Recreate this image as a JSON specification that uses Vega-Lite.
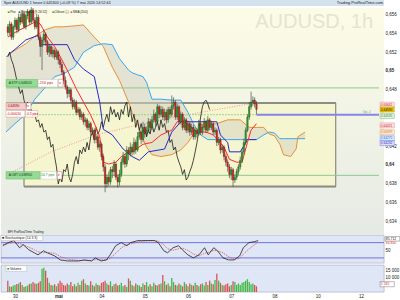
{
"$schema": "https://vega.github.io/schema/vega-lite/v6.json",
"padding": 0,
"background": "white",
"spacing": 0,
"config": {"view": {"stroke": null}, "font": "Liberation Sans", "text": {"font": "Liberation Sans"}, "axis": {"labelFont": "Liberation Sans", "labelFontSize": 4.5, "labelColor": "#222222", "grid": false, "ticks": false, "domain": false, "title": null, "labelPadding": 1}},
"datasets": {
"candles": [
{"t":0,"o":0.6547,"h":0.6550,"l":0.6537,"c":0.6541,"v":8000},
{"t":1,"o":0.6541,"h":0.6553,"l":0.6538,"c":0.6550,"v":4000},
{"t":2,"o":0.6550,"h":0.6552,"l":0.6533,"c":0.6536,"v":3600},
{"t":3,"o":0.6536,"h":0.6549,"l":0.6533,"c":0.6547,"v":4500},
{"t":4,"o":0.6547,"h":0.6557,"l":0.6544,"c":0.6554,"v":5000},
{"t":5,"o":0.6554,"h":0.6556,"l":0.6540,"c":0.6544,"v":5700},
{"t":6,"o":0.6544,"h":0.6561,"l":0.6541,"c":0.6557,"v":6000},
{"t":7,"o":0.6557,"h":0.6561,"l":0.6549,"c":0.6552,"v":7000},
{"t":8,"o":0.6552,"h":0.6565,"l":0.6550,"c":0.6561,"v":5000},
{"t":9,"o":0.6561,"h":0.6563,"l":0.6545,"c":0.6547,"v":3600},
{"t":10,"o":0.6547,"h":0.6561,"l":0.6544,"c":0.6559,"v":4000},
{"t":11,"o":0.6559,"h":0.6566,"l":0.6555,"c":0.6563,"v":4500},
{"t":12,"o":0.6563,"h":0.6565,"l":0.6549,"c":0.6552,"v":5700},
{"t":13,"o":0.6552,"h":0.6568,"l":0.6550,"c":0.6565,"v":6000},
{"t":14,"o":0.6565,"h":0.6567,"l":0.6552,"c":0.6554,"v":7100},
{"t":15,"o":0.6554,"h":0.6557,"l":0.6544,"c":0.6547,"v":6000},
{"t":16,"o":0.6547,"h":0.6561,"l":0.6545,"c":0.6557,"v":5700},
{"t":17,"o":0.6557,"h":0.6560,"l":0.6533,"c":0.6536,"v":6500},
{"t":18,"o":0.6536,"h":0.6539,"l":0.6515,"c":0.6526,"v":7500},
{"t":19,"o":0.6526,"h":0.6536,"l":0.6501,"c":0.6533,"v":16400},
{"t":20,"o":0.6533,"h":0.6544,"l":0.6529,"c":0.6539,"v":17000},
{"t":21,"o":0.6539,"h":0.6541,"l":0.6527,"c":0.6531,"v":15000},
{"t":22,"o":0.6531,"h":0.6533,"l":0.6517,"c":0.6520,"v":10000},
{"t":23,"o":0.6520,"h":0.6529,"l":0.6515,"c":0.6526,"v":6500},
{"t":24,"o":0.6526,"h":0.6528,"l":0.6515,"c":0.6518,"v":5000},
{"t":25,"o":0.6518,"h":0.6526,"l":0.6514,"c":0.6522,"v":4500},
{"t":26,"o":0.6522,"h":0.6524,"l":0.6512,"c":0.6515,"v":5500},
{"t":27,"o":0.6515,"h":0.6522,"l":0.6512,"c":0.6520,"v":4000},
{"t":28,"o":0.6520,"h":0.6522,"l":0.6507,"c":0.6512,"v":6000},
{"t":29,"o":0.6512,"h":0.6515,"l":0.6503,"c":0.6507,"v":8000},
{"t":30,"o":0.6507,"h":0.6510,"l":0.6496,"c":0.6499,"v":6500},
{"t":31,"o":0.6499,"h":0.6501,"l":0.6486,"c":0.6490,"v":5000},
{"t":32,"o":0.6490,"h":0.6494,"l":0.6480,"c":0.6483,"v":4500},
{"t":33,"o":0.6483,"h":0.6485,"l":0.6471,"c":0.6476,"v":6000},
{"t":34,"o":0.6476,"h":0.6483,"l":0.6472,"c":0.6480,"v":5000},
{"t":35,"o":0.6480,"h":0.6482,"l":0.6466,"c":0.6469,"v":7000},
{"t":36,"o":0.6469,"h":0.6472,"l":0.6459,"c":0.6462,"v":4000},
{"t":37,"o":0.6462,"h":0.6470,"l":0.6459,"c":0.6467,"v":5500},
{"t":38,"o":0.6467,"h":0.6469,"l":0.6453,"c":0.6456,"v":4000},
{"t":39,"o":0.6456,"h":0.6462,"l":0.6453,"c":0.6459,"v":6500},
{"t":40,"o":0.6459,"h":0.6461,"l":0.6448,"c":0.6451,"v":5000},
{"t":41,"o":0.6451,"h":0.6457,"l":0.6448,"c":0.6454,"v":8000},
{"t":42,"o":0.6454,"h":0.6456,"l":0.6443,"c":0.6446,"v":9000},
{"t":43,"o":0.6446,"h":0.6451,"l":0.6441,"c":0.6448,"v":6000},
{"t":44,"o":0.6448,"h":0.6450,"l":0.6437,"c":0.6440,"v":5000},
{"t":45,"o":0.6440,"h":0.6447,"l":0.6437,"c":0.6444,"v":4500},
{"t":46,"o":0.6444,"h":0.6446,"l":0.6431,"c":0.6435,"v":7500},
{"t":47,"o":0.6435,"h":0.6440,"l":0.6432,"c":0.6437,"v":5000},
{"t":48,"o":0.6437,"h":0.6439,"l":0.6423,"c":0.6427,"v":4000},
{"t":49,"o":0.6427,"h":0.6433,"l":0.6423,"c":0.6430,"v":6000},
{"t":50,"o":0.6430,"h":0.6432,"l":0.6416,"c":0.6419,"v":5000},
{"t":51,"o":0.6419,"h":0.6426,"l":0.6414,"c":0.6422,"v":4500},
{"t":52,"o":0.6422,"h":0.6424,"l":0.6405,"c":0.6409,"v":6500},
{"t":53,"o":0.6409,"h":0.6412,"l":0.6393,"c":0.6398,"v":7000},
{"t":54,"o":0.6398,"h":0.6401,"l":0.6371,"c":0.6380,"v":8000},
{"t":55,"o":0.6380,"h":0.6390,"l":0.6376,"c":0.6387,"v":6000},
{"t":56,"o":0.6387,"h":0.6393,"l":0.6378,"c":0.6382,"v":5000},
{"t":57,"o":0.6382,"h":0.6398,"l":0.6379,"c":0.6395,"v":7500},
{"t":58,"o":0.6395,"h":0.6399,"l":0.6386,"c":0.6393,"v":4000},
{"t":59,"o":0.6393,"h":0.6405,"l":0.6388,"c":0.6401,"v":5500},
{"t":60,"o":0.6401,"h":0.6403,"l":0.6384,"c":0.6387,"v":6000},
{"t":61,"o":0.6387,"h":0.6390,"l":0.6376,"c":0.6382,"v":4500},
{"t":62,"o":0.6382,"h":0.6395,"l":0.6378,"c":0.6390,"v":5000},
{"t":63,"o":0.6390,"h":0.6407,"l":0.6387,"c":0.6403,"v":6500},
{"t":64,"o":0.6403,"h":0.6414,"l":0.6400,"c":0.6409,"v":4000},
{"t":65,"o":0.6409,"h":0.6412,"l":0.6397,"c":0.6401,"v":5000},
{"t":66,"o":0.6401,"h":0.6420,"l":0.6398,"c":0.6416,"v":3500},
{"t":67,"o":0.6416,"h":0.6419,"l":0.6405,"c":0.6412,"v":9500},
{"t":68,"o":0.6412,"h":0.6424,"l":0.6409,"c":0.6419,"v":8000},
{"t":69,"o":0.6419,"h":0.6422,"l":0.6410,"c":0.6414,"v":5000},
{"t":70,"o":0.6414,"h":0.6429,"l":0.6411,"c":0.6424,"v":4000},
{"t":71,"o":0.6424,"h":0.6427,"l":0.6412,"c":0.6416,"v":6000},
{"t":72,"o":0.6416,"h":0.6435,"l":0.6414,"c":0.6430,"v":5000},
{"t":73,"o":0.6430,"h":0.6439,"l":0.6427,"c":0.6435,"v":4500},
{"t":74,"o":0.6435,"h":0.6437,"l":0.6422,"c":0.6427,"v":3500},
{"t":75,"o":0.6427,"h":0.6446,"l":0.6424,"c":0.6440,"v":6000},
{"t":76,"o":0.6440,"h":0.6444,"l":0.6429,"c":0.6433,"v":5000},
{"t":77,"o":0.6433,"h":0.6441,"l":0.6430,"c":0.6437,"v":7000},
{"t":78,"o":0.6437,"h":0.6450,"l":0.6434,"c":0.6446,"v":4000},
{"t":79,"o":0.6446,"h":0.6449,"l":0.6436,"c":0.6440,"v":5500},
{"t":80,"o":0.6440,"h":0.6452,"l":0.6437,"c":0.6448,"v":4000},
{"t":81,"o":0.6448,"h":0.6459,"l":0.6445,"c":0.6454,"v":6500},
{"t":82,"o":0.6454,"h":0.6456,"l":0.6441,"c":0.6446,"v":5000},
{"t":83,"o":0.6446,"h":0.6465,"l":0.6443,"c":0.6462,"v":4500},
{"t":84,"o":0.6462,"h":0.6464,"l":0.6450,"c":0.6454,"v":5500},
{"t":85,"o":0.6454,"h":0.6463,"l":0.6451,"c":0.6459,"v":6000},
{"t":86,"o":0.6459,"h":0.6462,"l":0.6448,"c":0.6451,"v":12000},
{"t":87,"o":0.6451,"h":0.6460,"l":0.6447,"c":0.6456,"v":7500},
{"t":88,"o":0.6456,"h":0.6459,"l":0.6444,"c":0.6448,"v":5000},
{"t":89,"o":0.6448,"h":0.6462,"l":0.6445,"c":0.6459,"v":6000},
{"t":90,"o":0.6459,"h":0.6462,"l":0.6450,"c":0.6454,"v":4000},
{"t":91,"o":0.6454,"h":0.6474,"l":0.6451,"c":0.6463,"v":9800},
{"t":92,"o":0.6463,"h":0.6472,"l":0.6459,"c":0.6467,"v":7000},
{"t":93,"o":0.6467,"h":0.6469,"l":0.6448,"c":0.6451,"v":5000},
{"t":94,"o":0.6451,"h":0.6465,"l":0.6448,"c":0.6462,"v":4500},
{"t":95,"o":0.6462,"h":0.6464,"l":0.6443,"c":0.6446,"v":6000},
{"t":96,"o":0.6446,"h":0.6457,"l":0.6443,"c":0.6454,"v":5000},
{"t":97,"o":0.6454,"h":0.6456,"l":0.6437,"c":0.6440,"v":4000},
{"t":98,"o":0.6440,"h":0.6451,"l":0.6437,"c":0.6448,"v":7000},
{"t":99,"o":0.6448,"h":0.6450,"l":0.6434,"c":0.6437,"v":5500},
{"t":100,"o":0.6437,"h":0.6447,"l":0.6434,"c":0.6444,"v":4000},
{"t":101,"o":0.6444,"h":0.6446,"l":0.6431,"c":0.6435,"v":6000},
{"t":102,"o":0.6435,"h":0.6444,"l":0.6432,"c":0.6440,"v":5000},
{"t":103,"o":0.6440,"h":0.6443,"l":0.6427,"c":0.6430,"v":4500},
{"t":104,"o":0.6430,"h":0.6440,"l":0.6427,"c":0.6437,"v":6500},
{"t":105,"o":0.6437,"h":0.6439,"l":0.6429,"c":0.6433,"v":5000},
{"t":106,"o":0.6433,"h":0.6448,"l":0.6431,"c":0.6444,"v":4000},
{"t":107,"o":0.6444,"h":0.6446,"l":0.6432,"c":0.6435,"v":5500},
{"t":108,"o":0.6435,"h":0.6444,"l":0.6432,"c":0.6440,"v":6000},
{"t":109,"o":0.6440,"h":0.6450,"l":0.6437,"c":0.6446,"v":4500},
{"t":110,"o":0.6446,"h":0.6448,"l":0.6434,"c":0.6437,"v":7000},
{"t":111,"o":0.6437,"h":0.6452,"l":0.6435,"c":0.6448,"v":5000},
{"t":112,"o":0.6448,"h":0.6450,"l":0.6437,"c":0.6440,"v":8000},
{"t":113,"o":0.6440,"h":0.6447,"l":0.6437,"c":0.6444,"v":6000},
{"t":114,"o":0.6444,"h":0.6446,"l":0.6432,"c":0.6435,"v":5500},
{"t":115,"o":0.6435,"h":0.6440,"l":0.6432,"c":0.6437,"v":8500},
{"t":116,"o":0.6437,"h":0.6439,"l":0.6420,"c":0.6424,"v":12800},
{"t":117,"o":0.6424,"h":0.6430,"l":0.6421,"c":0.6427,"v":8000},
{"t":118,"o":0.6427,"h":0.6429,"l":0.6412,"c":0.6416,"v":6500},
{"t":119,"o":0.6416,"h":0.6422,"l":0.6413,"c":0.6419,"v":5000},
{"t":120,"o":0.6419,"h":0.6421,"l":0.6405,"c":0.6409,"v":4500},
{"t":121,"o":0.6409,"h":0.6412,"l":0.6399,"c":0.6403,"v":5500},
{"t":122,"o":0.6403,"h":0.6406,"l":0.6393,"c":0.6398,"v":6000},
{"t":123,"o":0.6398,"h":0.6401,"l":0.6386,"c":0.6390,"v":4000},
{"t":124,"o":0.6390,"h":0.6398,"l":0.6384,"c":0.6395,"v":5000},
{"t":125,"o":0.6395,"h":0.6397,"l":0.6377,"c":0.6384,"v":7500},
{"t":126,"o":0.6384,"h":0.6390,"l":0.6381,"c":0.6387,"v":7000},
{"t":127,"o":0.6387,"h":0.6396,"l":0.6384,"c":0.6393,"v":5000},
{"t":128,"o":0.6393,"h":0.6401,"l":0.6389,"c":0.6398,"v":6000},
{"t":129,"o":0.6398,"h":0.6409,"l":0.6395,"c":0.6405,"v":5000},
{"t":130,"o":0.6405,"h":0.6417,"l":0.6402,"c":0.6414,"v":6500},
{"t":131,"o":0.6414,"h":0.6428,"l":0.6411,"c":0.6424,"v":7000},
{"t":132,"o":0.6424,"h":0.6440,"l":0.6421,"c":0.6437,"v":8000},
{"t":133,"o":0.6437,"h":0.6454,"l":0.6435,"c":0.6451,"v":9000},
{"t":134,"o":0.6451,"h":0.6467,"l":0.6448,"c":0.6462,"v":7000},
{"t":135,"o":0.6462,"h":0.6478,"l":0.6459,"c":0.6467,"v":5500},
{"t":136,"o":0.6467,"h":0.6473,"l":0.6463,"c":0.6469,"v":6000},
{"t":137,"o":0.6469,"h":0.6472,"l":0.6461,"c":0.6465,"v":5000},
{"t":138,"o":0.6465,"h":0.6468,"l":0.6454,"c":0.6459,"v":4000}
],
"tenkan": [
{"t":0,"p":0.6536},{"t":4,"p":0.6541},{"t":10,"p":0.6547},{"t":15,"p":0.6552},{"t":18,"p":0.6550},{"t":22,"p":0.6536},{"t":26,"p":0.6526},{"t":30,"p":0.6512},{"t":34,"p":0.6497},{"t":38,"p":0.6481},{"t":42,"p":0.6467},{"t":46,"p":0.6453},{"t":49,"p":0.6440},{"t":51,"p":0.6430},{"t":53,"p":0.6403},{"t":56,"p":0.6401},{"t":60,"p":0.6403},{"t":63,"p":0.6409},{"t":67,"p":0.6414},{"t":69,"p":0.6414},{"t":75,"p":0.6422},{"t":80,"p":0.6424},{"t":85,"p":0.6432},{"t":91,"p":0.6437},{"t":94,"p":0.6446},{"t":98,"p":0.6446},{"t":102,"p":0.6440},{"t":105,"p":0.6435},{"t":110,"p":0.6435},{"t":114,"p":0.6432},{"t":116,"p":0.6428},{"t":120,"p":0.6419},{"t":123,"p":0.6406},{"t":127,"p":0.6403},{"t":130,"p":0.6403},{"t":133,"p":0.6424},{"t":135,"p":0.6437},{"t":138,"p":0.6444}
],
"kijun": [
{"t":0,"p":0.6517},{"t":4,"p":0.6523},{"t":10,"p":0.6533},{"t":17,"p":0.6538},{"t":18,"p":0.6528},{"t":33,"p":0.6528},{"t":37,"p":0.6512},{"t":42,"p":0.6502},{"t":48,"p":0.6494},{"t":51,"p":0.6467},{"t":53,"p":0.6438},{"t":58,"p":0.6432},{"t":64,"p":0.6417},{"t":69,"p":0.6409},{"t":73,"p":0.6405},{"t":78,"p":0.6414},{"t":87,"p":0.6417},{"t":91,"p":0.6435},{"t":96,"p":0.6446},{"t":116,"p":0.6446},{"t":118,"p":0.6432},{"t":122,"p":0.6424},{"t":123,"p":0.6414},{"t":129,"p":0.6414},{"t":133,"p":0.6427},{"t":138,"p":0.6427}
],
"cloud": [
{"t":-1,"a":0.6435,"b":0.6515},{"t":4,"a":0.6444,"b":0.6522},{"t":10,"a":0.6454,"b":0.6529},{"t":15,"a":0.6470,"b":0.6537},{"t":21,"a":0.6483,"b":0.6544},{"t":26,"a":0.6494,"b":0.6547},{"t":31,"a":0.6497,"b":0.6547},{"t":37,"a":0.6504,"b":0.6548},{"t":42,"a":0.6520,"b":0.6549},{"t":48,"a":0.6527,"b":0.6536},{"t":53,"a":0.6529,"b":0.6526},{"t":58,"a":0.6528,"b":0.6504},{"t":62,"a":0.6513,"b":0.6490},{"t":67,"a":0.6501,"b":0.6467},{"t":69,"a":0.6498,"b":0.6456},{"t":72,"a":0.6496,"b":0.6444},{"t":75,"a":0.6494,"b":0.6428},{"t":77,"a":0.6488,"b":0.6419},{"t":80,"a":0.6470,"b":0.6411},{"t":85,"a":0.6470,"b":0.6409},{"t":91,"a":0.6469,"b":0.6411},{"t":96,"a":0.6469,"b":0.6416},{"t":100,"a":0.6456,"b":0.6424},{"t":103,"a":0.6444,"b":0.6433},{"t":107,"a":0.6432,"b":0.6439},{"t":111,"a":0.6427,"b":0.6443},{"t":116,"a":0.6427,"b":0.6444},{"t":122,"a":0.6427,"b":0.6448},{"t":129,"a":0.6427,"b":0.6448},{"t":134,"a":0.6427,"b":0.6440},{"t":138,"a":0.6427,"b":0.6440},{"t":142,"a":0.6432,"b":0.6440},{"t":145,"a":0.6435,"b":0.6433},{"t":148,"a":0.6434,"b":0.6431},{"t":151,"a":0.6428,"b":0.6422},{"t":153,"a":0.6428,"b":0.6411},{"t":157,"a":0.6428,"b":0.6409},{"t":160,"a":0.6428,"b":0.6417},{"t":161,"a":0.6428,"b":0.6430},{"t":165,"a":0.6428,"b":0.6435}
],
"sma": [
{"t":-1,"p":0.6389},{"t":24,"p":0.6414},{"t":49,"p":0.6432},{"t":75,"p":0.6444},{"t":107,"p":0.6456},{"t":134,"p":0.6465},{"t":138,"p":0.6466}
],
"stoch": [
{"t":0,"k":68,"d":72},{"t":3,"k":80,"d":76},{"t":6,"k":88,"d":80},{"t":9,"k":60,"d":76},{"t":11,"k":72,"d":72},{"t":14,"k":52,"d":62},{"t":17,"k":40,"d":52},{"t":19,"k":32,"d":44},{"t":22,"k":48,"d":40},{"t":24,"k":40,"d":42},{"t":28,"k":28,"d":38},{"t":31,"k":12,"d":26},{"t":35,"k":8,"d":15},{"t":41,"k":8,"d":10},{"t":44,"k":12,"d":10},{"t":48,"k":8,"d":10},{"t":50,"k":20,"d":13},{"t":53,"k":8,"d":13},{"t":56,"k":12,"d":12},{"t":58,"k":32,"d":18},{"t":61,"k":68,"d":38},{"t":64,"k":80,"d":60},{"t":67,"k":68,"d":72},{"t":69,"k":80,"d":75},{"t":73,"k":88,"d":82},{"t":75,"k":88,"d":85},{"t":78,"k":88,"d":88},{"t":82,"k":88,"d":88},{"t":84,"k":80,"d":86},{"t":87,"k":48,"d":72},{"t":89,"k":40,"d":56},{"t":92,"k":60,"d":50},{"t":95,"k":68,"d":56},{"t":97,"k":52,"d":58},{"t":100,"k":32,"d":50},{"t":103,"k":20,"d":35},{"t":106,"k":32,"d":28},{"t":109,"k":60,"d":38},{"t":111,"k":32,"d":42},{"t":114,"k":60,"d":50},{"t":116,"k":48,"d":48},{"t":119,"k":20,"d":40},{"t":122,"k":12,"d":25},{"t":125,"k":12,"d":15},{"t":128,"k":28,"d":18},{"t":130,"k":60,"d":35},{"t":133,"k":80,"d":55},{"t":136,"k":84,"d":72},{"t":138,"k":88,"d":82}
],
"tagbox": [
{"t":-1,"t2":16.5,"p":0.6483,"p2":0.6491,"f":"#94dc94","s":"#5aa85a"},
{"t":16.8,"t2":27.6,"p":0.6483,"p2":0.6491,"f":"#ffffff","s":"#bbbbbb"},
{"t":28,"t2":30.6,"p":0.6483,"p2":0.6491,"f":"#ffffff","s":"#cc6666"},
{"t":-1,"t2":10,"p":0.6459,"p2":0.6466,"f":"#f7cccc","s":"#cc8888"},
{"t":10.4,"t2":12.8,"p":0.6459,"p2":0.6466,"f":"#ffffff","s":"#cc6666"},
{"t":-1,"t2":9.5,"p":0.6451,"p2":0.6458,"f":"#ffffff","s":"#cc8888"},
{"t":9.8,"t2":16.5,"p":0.6451,"p2":0.6458,"f":"#ffffff","s":"#cc8888"},
{"t":-1,"t2":18,"p":0.6385,"p2":0.6393,"f":"#94dc94","s":"#5aa85a"},
{"t":18.3,"t2":27,"p":0.6385,"p2":0.6393,"f":"#ffffff","s":"#bbbbbb"},
{"t":27.4,"t2":30,"p":0.6385,"p2":0.6393,"f":"#ffffff","s":"#cc6666"},
{"t":206.6,"t2":214.5,"p":0.64615,"p2":0.64668,"f":"#fbe3e3","s":"#dd7777"},
{"t":206.6,"t2":214.5,"p":0.64563,"p2":0.64616,"f":"#f2c500","s":"#b08a00"},
{"t":206.6,"t2":214.5,"p":0.64494,"p2":0.64547,"f":"#e5f5e5","s":"#66aa66"},
{"t":206.6,"t2":214.5,"p":0.64395,"p2":0.64448,"f":"#fbe3e3","s":"#dd7777"},
{"t":206.6,"t2":214.5,"p":0.64323,"p2":0.64376,"f":"#fbe8d8","s":"#dd9955"},
{"t":206.6,"t2":214.5,"p":0.64259,"p2":0.64312,"f":"#dde8fb","s":"#5a90dd"},
{"t":206.6,"t2":214.5,"p":0.64206,"p2":0.64259,"f":"#dde0fb","s":"#5a5add"}
],
"tagtext": [
{"t":0.5,"p":0.6487,"s":"A STP  0,648020","c":"#0a3a0a"},
{"t":17.2,"p":0.6487,"s":"-23,6 pips","c":"#cc0000"},
{"t":28.6,"p":0.6487,"s":"x","c":"#cc0000"},
{"t":0,"p":0.64625,"s":"0,64590","c":"#7a0000"},
{"t":10.8,"p":0.64625,"s":"x","c":"#cc0000"},
{"t":-0.6,"p":0.64545,"s":"-0,000010","c":"#cc0000"},
{"t":10.1,"p":0.64545,"s":"-0,3 pips","c":"#cc0000"},
{"t":0.5,"p":0.6389,"s":"A LMT  0,638900","c":"#0a3a0a"},
{"t":18.6,"p":0.6389,"s":"54,7 pips","c":"#2a8a2a"},
{"t":27.8,"p":0.6389,"s":"x","c":"#cc0000"},
{"t":207,"p":0.64641,"s":"0,64641","c":"#cc2222"},
{"t":207,"p":0.6459,"s":"0,64590","c":"#000000"},
{"t":207,"p":0.6452,"s":"0,64535","c":"#2a8a2a"},
{"t":207,"p":0.64421,"s":"0,64421","c":"#cc2222"},
{"t":207,"p":0.6435,"s":"0,64399","c":"#d87a20"},
{"t":207,"p":0.64285,"s":"0,64275","c":"#2a70d8"},
{"t":207,"p":0.64232,"s":"0,64232","c":"#2a2ad0"},
{"t":0,"p":0.65633,"s":"■","c":"#2a9a2a"},
{"t":1.3,"p":0.65633,"s":"Prix","c":"#222222"},
{"t":6,"p":0.65633,"s":"■","c":"#3a3ad0"},
{"t":7.2,"p":0.65633,"s":"Ichimoku (9 26 52)","c":"#222222"},
{"t":24.6,"p":0.65633,"s":"■","c":"#2a9a2a"},
{"t":25.8,"p":0.65633,"s":"Clôture (-)","c":"#222222"},
{"t":34.8,"p":0.65633,"s":"■","c":"#e05050"},
{"t":36,"p":0.65633,"s":"SMA (200)","c":"#222222"},
{"t":0,"p":0.6329,"s":"BFI ProRealTime Trading","c":"#222222"},
{"t":197,"p":0.6456,"s":"Op. J","c":"#44aa44"}
]
},
"vconcat": [
{
"width": 383, "height": 6,
"view": {"fill": "#d4e2ee", "stroke": null},
"data": {"values": [{}]},
"layer": [
{"mark": {"type": "text", "align": "left", "fontSize": 3.7, "color": "#222"},
 "encoding": {"x": {"datum": 0.5, "type": "quantitative", "scale": {"domain": [-1, 206], "nice": false, "zero": false}, "axis": null},
  "text": {"value": "Spot AUD/USD 1 heure  0,645300 (+0,09 %)  7 mai 2020 14:52:44"}}},
{"mark": {"type": "text", "align": "right", "fontSize": 4, "color": "#222"},
 "encoding": {"x": {"datum": 205.5, "type": "quantitative", "scale": {"domain": [-1, 206], "nice": false, "zero": false}, "axis": null},
  "text": {"value": "Trading.ProRealTime.com"}}}
]
},
{
"width": 383, "height": 226,
"view": {"fill": {"gradient": "linear", "x1": 0, "y1": 0, "x2": 0, "y2": 1, "stops": [{"offset": 0, "color": "#fcfce6"}, {"offset": 1, "color": "#e6eae5"}]}, "stroke": null},
"encoding": {
 "x": {"field": "t", "type": "quantitative", "scale": {"domain": [-1, 206], "nice": false, "zero": false}, "axis": null},
 "y": {"field": "p", "type": "quantitative", "scale": {"domain": [0.63266, 0.6567], "nice": false, "zero": false},
  "axis": {"orient": "right", "values": [0.634, 0.636, 0.638, 0.64, 0.642, 0.648, 0.65, 0.652, 0.654, 0.656], "format": ".3~f", "labelExpr": "replace(datum.label, '.', ',')", "labelFontWeight": {"condition": {"test": "datum.value == 0.65 || datum.value == 0.64", "value": "bold"}, "value": "normal"}}}
},
"layer": [
{"data": {"values": [{"t": 9, "t2": 182, "p": 0.6377, "p2": 0.6466}]},
 "mark": {"type": "rect", "fill": "#f5f5cf", "stroke": "#555555", "strokeWidth": 0.8},
 "encoding": {"x2": {"field": "t2"}, "y2": {"field": "p2"}}},
{"data": {"values": [{"t": -1, "t2": 182, "p": 0.6466}, {"t": 9, "t2": 182, "p": 0.6377}]},
 "mark": {"type": "rule", "stroke": "#8c8c84", "strokeWidth": 2},
 "encoding": {"x2": {"field": "t2"}}},
{"data": {"name": "cloud"},
 "mark": {"type": "area", "fill": "#d6d3c3", "opacity": 0.55},
 "encoding": {"y": {"field": "a", "type": "quantitative", "scale": {"domain": [0.63266, 0.6567], "nice": false, "zero": false}}, "y2": {"field": "b"}}},
{"data": {"name": "cloud"},
 "mark": {"type": "line", "stroke": "#3aa6f0", "strokeWidth": 1},
 "encoding": {"y": {"field": "a", "type": "quantitative", "scale": {"domain": [0.63266, 0.6567], "nice": false, "zero": false}}}},
{"data": {"name": "cloud"},
 "mark": {"type": "line", "stroke": "#e8903a", "strokeWidth": 1},
 "encoding": {"y": {"field": "b", "type": "quantitative", "scale": {"domain": [0.63266, 0.6567], "nice": false, "zero": false}}}},
{"data": {"name": "sma"},
 "mark": {"type": "line", "stroke": "#f09a9a", "strokeWidth": 1, "strokeDash": [1, 1.5]},
 "encoding": {}},
{"data": {"values": [{"t": -1, "t2": 206, "p": 0.6482}, {"t": -1, "t2": 206, "p": 0.6389}]},
 "mark": {"type": "rule", "stroke": "#8fc98f", "strokeWidth": 1},
 "encoding": {"x2": {"field": "t2"}}},
{"data": {"values": [{"t": -1, "t2": 138, "p": 0.64535}]},
 "mark": {"type": "rule", "stroke": "#99d699", "strokeWidth": 1, "strokeDash": [2, 1]},
 "encoding": {"x2": {"field": "t2"}}},
{"data": {"values": [{"t": 138, "t2": 206, "p": 0.64535}]},
 "mark": {"type": "rule", "stroke": "#8585e6", "strokeWidth": 2},
 "encoding": {"x2": {"field": "t2"}}},
{"data": {"name": "candles"},
 "transform": [{"window": [{"op": "lead", "field": "c", "param": 26, "as": "ch"}], "sort": [{"field": "t", "order": "ascending"}]}, {"filter": "datum.ch != null"}],
 "mark": {"type": "line", "stroke": "#1a1a1a", "strokeWidth": 0.8},
 "encoding": {"y": {"field": "ch", "type": "quantitative", "scale": {"domain": [0.63266, 0.6567], "nice": false, "zero": false}}}},
{"data": {"name": "kijun"},
 "mark": {"type": "line", "stroke": "#2828c8", "strokeWidth": 1},
 "encoding": {}},
{"data": {"name": "tenkan"},
 "mark": {"type": "line", "stroke": "#ff2a2a", "strokeWidth": 1},
 "encoding": {}},
{"data": {"name": "candles"},
 "mark": {"type": "rule", "stroke": "#333333", "strokeWidth": 0.6},
 "encoding": {"y": {"field": "l", "type": "quantitative", "scale": {"domain": [0.63266, 0.6567], "nice": false, "zero": false}}, "y2": {"field": "h"}}},
{"data": {"name": "candles"},
 "mark": {"type": "bar", "width": 1.5, "stroke": "#222222", "strokeWidth": 0.3},
 "encoding": {"y": {"field": "o", "type": "quantitative", "scale": {"domain": [0.63266, 0.6567], "nice": false, "zero": false}}, "y2": {"field": "c"},
  "color": {"condition": {"test": "datum.c >= datum.o", "value": "#22aa22"}, "value": "#e02020"}}},
{"data": {"name": "tagbox"},
 "mark": {"type": "rect", "strokeWidth": 0.4},
 "encoding": {"x2": {"field": "t2"}, "y2": {"field": "p2"}, "fill": {"field": "f", "type": "nominal", "scale": null}, "stroke": {"field": "s", "type": "nominal", "scale": null}}},
{"data": {"name": "tagtext"},
 "mark": {"type": "text", "align": "left", "baseline": "middle", "fontSize": 3.2},
 "encoding": {"text": {"field": "s"}, "color": {"field": "c", "type": "nominal", "scale": null}}},
{"data": {"values": [{"t": 170, "p": 0.6552, "s": "AUDUSD, 1h"}]},
 "mark": {"type": "text", "align": "center", "baseline": "middle", "fontSize": 20, "color": "#e4e4d4"},
 "encoding": {"text": {"field": "s"}}}
]
},
{
"width": 383, "height": 28,
"view": {"fill": "#dfe6f6", "stroke": "#9ea6b8", "strokeWidth": 0.6},
"encoding": {
 "x": {"field": "t", "type": "quantitative", "scale": {"domain": [-1, 206], "nice": false, "zero": false}, "axis": null},
 "y": {"field": "v", "type": "quantitative", "scale": {"domain": [0, 110], "nice": false, "zero": false}, "axis": {"orient": "right", "values": [50]}}
},
"layer": [
{"data": {"values": [{"t": -1, "t2": 206, "v": 80}, {"t": -1, "t2": 206, "v": 20}]},
 "mark": {"type": "rule", "stroke": "#7272e0", "strokeWidth": 1},
 "encoding": {"x2": {"field": "t2"}}},
{"data": {"name": "stoch"},
 "mark": {"type": "line", "stroke": "#e05050", "strokeWidth": 0.8, "strokeDash": [1.5, 1]},
 "encoding": {"y": {"field": "d", "type": "quantitative", "scale": {"domain": [0, 110], "nice": false, "zero": false}}}},
{"data": {"name": "stoch"},
 "mark": {"type": "line", "stroke": "#222222", "strokeWidth": 0.8},
 "encoding": {"y": {"field": "k", "type": "quantitative", "scale": {"domain": [0, 110], "nice": false, "zero": false}}}},
{"data": {"values": [{"t": -1, "t2": 21.5, "v": 88, "v2": 107, "f": "#ffffff", "s": "#aaaaaa"}, {"t": 206.6, "t2": 214.5, "v": 86, "v2": 104, "f": "#ffffff", "s": "#555555"}]},
 "mark": {"type": "rect", "strokeWidth": 0.4},
 "encoding": {"x2": {"field": "t2"}, "y2": {"field": "v2"},
  "fill": {"field": "f", "type": "nominal", "scale": null}, "stroke": {"field": "s", "type": "nominal", "scale": null}}},
{"data": {"values": [{"t": -0.4, "v": 97.5, "s": "■", "c": "#111111"}, {"t": 1.2, "v": 97.5, "s": "Stochastique (14 3 3)", "c": "#222222"}, {"t": 207, "v": 95, "s": "85,712", "c": "#111111"}, {"t": 207, "v": 78, "s": "84,800", "c": "#dd3333"}]},
 "mark": {"type": "text", "align": "left", "baseline": "middle", "fontSize": 3.4},
 "encoding": {"text": {"field": "s"}, "color": {"field": "c", "type": "nominal", "scale": null}}}
]
},
{
"width": 383, "height": 27,
"view": {"fill": "#dfe6f6", "stroke": "#9ea6b8", "strokeWidth": 0.6},
"encoding": {
 "x": {"field": "t", "type": "quantitative", "scale": {"domain": [-1, 206], "nice": false, "zero": false},
   "axis": {"values": [4, 28, 52, 76, 100, 124, 148, 172, 196], "labelFlush": false, "labelExpr": "datum.value == 4 ? '30' : datum.value == 28 ? 'mai' : datum.value == 52 ? '04' : datum.value == 76 ? '05' : datum.value == 100 ? '06' : datum.value == 124 ? '07' : datum.value == 148 ? '08' : datum.value == 172 ? '10' : '12'", "labelFontWeight": {"condition": {"test": "datum.value == 28", "value": "bold"}, "value": "normal"}}},
 "y": {"field": "v", "type": "quantitative", "scale": {"domain": [0, 19000], "nice": false, "zero": true},
   "axis": {"orient": "right", "values": [10000, 15000], "labelExpr": "replace(format(datum.value, ','), ',', ' ')"}}
},
"layer": [
{"data": {"name": "candles"},
 "mark": {"type": "bar", "width": 1.3},
 "encoding": {"color": {"condition": {"test": "datum.c >= datum.o", "value": "#45b845"}, "value": "#d45555"}}},
{"data": {"values": [{"t": -1, "t2": 10.5, "v": 14500, "v2": 18500, "f": "#ffffff", "s": "#aaaaaa"}, {"t": 206.6, "t2": 214.5, "v": 3700, "v2": 7300, "f": "#ffffff", "s": "#555555"}]},
 "mark": {"type": "rect", "strokeWidth": 0.4},
 "encoding": {"x2": {"field": "t2"}, "y2": {"field": "v2"},
  "fill": {"field": "f", "type": "nominal", "scale": null}, "stroke": {"field": "s", "type": "nominal", "scale": null}}},
{"data": {"values": [{"t": -0.4, "v": 16500, "s": "■", "c": "#2a9a2a"}, {"t": 1.2, "v": 16500, "s": "Volume", "c": "#222222"}, {"t": 207, "v": 5500, "s": "5 585", "c": "#dd3333"}]},
 "mark": {"type": "text", "align": "left", "baseline": "middle", "fontSize": 3.4},
 "encoding": {"text": {"field": "s"}, "color": {"field": "c", "type": "nominal", "scale": null}}}
]
}
]
}
